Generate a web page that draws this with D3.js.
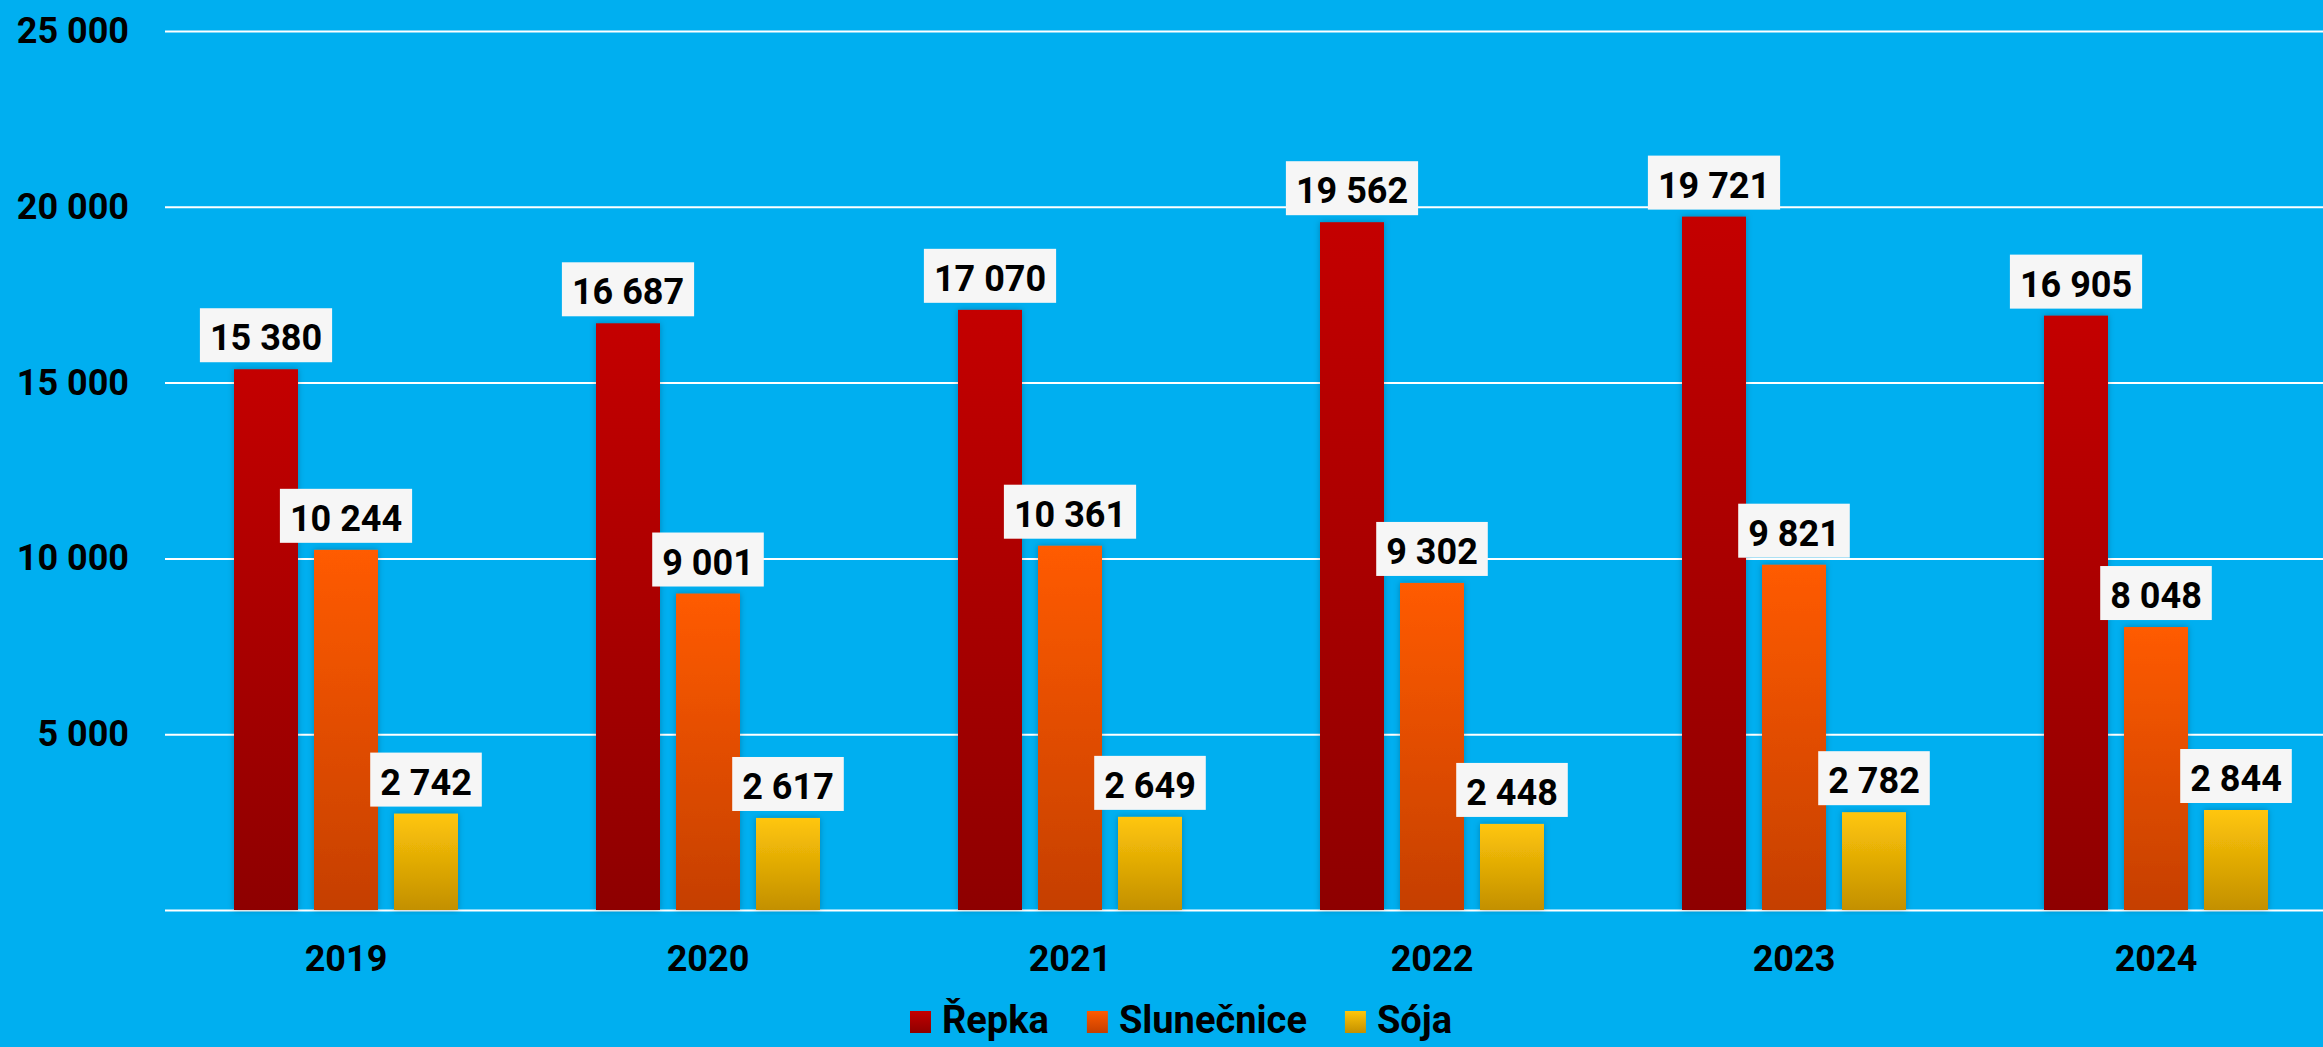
<!DOCTYPE html>
<html>
<head>
<meta charset="utf-8">
<script src="https://cdn.jsdelivr.net/npm/d3@7"></script>
<style>
    html, body { margin: 0; padding: 0; background: #00AFF0; }
    svg { display: block; }
    text { font-family: Roboto, "Noto Sans", sans-serif; font-weight: 700; fill: #000; }
</style>
</head>
<body>
<svg id="chart" width="2323" height="1047"></svg>
<script>
var years = ["2019", "2020", "2021", "2022", "2023", "2024"];
var seriesNames = ["Řepka", "Slunečnice", "Sója"];
var repka = [15380, 16687, 17070, 19562, 19721, 16905];
var slunecnice = [10244, 9001, 10361, 9302, 9821, 8048];
var soja = [2742, 2617, 2649, 2448, 2782, 2844];
var yTicks = [0, 5000, 10000, 15000, 20000, 25000];

var seriesValues = [repka, slunecnice, soja];
var gradColors = [["#C40000", "#8E0000"], ["#FF5B00", "#C53F00"], ["#FFC60A", "#C39000"]];

var width = 2323, height = 1047;
var plotLeft = 165, plotRight = 2337, plotTop = 31, plotBottom = 910;

var svg = d3.select("#chart");

var locale = d3.formatLocale({decimal: ",", thousands: " ", grouping: [3], currency: ["", ""]});
var fmt = locale.format(",d");

var defs = svg.append("defs");
gradColors.forEach(function(c, i) {
    var g = defs.append("linearGradient")
        .attr("id", "grad" + i)
        .attr("x1", 0).attr("y1", 0).attr("x2", 0).attr("y2", 1);
    g.append("stop").attr("offset", "0%").attr("stop-color", c[0]);
    g.append("stop").attr("offset", "100%").attr("stop-color", c[1]);
});
var shadow = defs.append("filter").attr("id", "shadow")
    .attr("x", "-20%").attr("y", "-5%").attr("width", "140%").attr("height", "110%");
shadow.append("feDropShadow")
    .attr("dx", 0).attr("dy", 0).attr("stdDeviation", 3)
    .attr("flood-color", "#000").attr("flood-opacity", 0.25);

svg.append("rect")
    .attr("width", width).attr("height", height)
    .attr("fill", "#00AFF0");

var x0 = d3.scaleBand().domain(years).range([plotLeft, plotRight]);
var x1 = d3.scaleBand().domain(seriesNames).range([-112, 112]).paddingInner(0.2);
var y = d3.scaleLinear().domain([0, 25000]).range([plotBottom, plotTop]);

// gridlines
var grid = svg.append("g")
    .attr("transform", "translate(" + plotLeft + ",0)")
    .call(d3.axisLeft(y).tickValues(yTicks).tickSize(-(width - plotLeft)).tickFormat(""));
grid.select(".domain").remove();
grid.selectAll("line").attr("stroke", "#FFFFFF").attr("stroke-width", 2);

// y labels (0 not labelled)
svg.append("g").selectAll("text")
    .data(yTicks.filter(function(d) { return d > 0; }))
    .enter().append("text")
    .attr("x", 129)
    .attr("y", function(d) { return y(d) + 12; })
    .attr("text-anchor", "end")
    .style("font-size", "36px")
    .text(function(d) { return fmt(d); });

// x labels
svg.append("g").selectAll("text")
    .data(years)
    .enter().append("text")
    .attr("x", function(d) { return x0(d) + x0.bandwidth() / 2; })
    .attr("y", 971)
    .attr("text-anchor", "middle")
    .style("font-size", "36px")
    .text(function(d) { return d; });

// bars + labels
var rows = [];
years.forEach(function(yr, i) {
    seriesNames.forEach(function(s, j) {
        rows.push({year: yr, series: s, idx: j, value: seriesValues[j][i]});
    });
});

var groups = svg.append("g").selectAll("g")
    .data(rows)
    .enter().append("g")
    .attr("transform", function(d) {
        return "translate(" + (x0(d.year) + x0.bandwidth() / 2 + x1(d.series)) + ",0)";
    });

groups.append("rect")
    .attr("x", 0)
    .attr("y", function(d) { return y(d.value); })
    .attr("width", x1.bandwidth())
    .attr("height", function(d) { return y(0) - y(d.value); })
    .attr("fill", function(d) { return "url(#grad" + d.idx + ")"; })
    .attr("filter", "url(#shadow)");

var labels = groups.append("g")
    .attr("transform", function(d) {
        return "translate(" + (x1.bandwidth() / 2) + "," + (y(d.value) - 7) + ")";
    });

labels.append("rect")
    .attr("fill", "#F6F6F6");

labels.append("text")
    .attr("x", 0)
    .attr("y", -12)
    .attr("text-anchor", "middle")
    .style("font-size", "36px")
    .text(function(d) { return fmt(d.value); });

labels.each(function() {
    var g = d3.select(this);
    var w = g.select("text").node().getComputedTextLength() + 20;
    g.select("rect")
        .attr("x", -w / 2)
        .attr("y", -54)
        .attr("width", w)
        .attr("height", 54);
});

// legend (lifted a little so descenders stay inside the picture)
var legend = svg.append("g");
var items = legend.selectAll("g")
    .data(seriesNames)
    .enter().append("g");
items.append("rect")
    .attr("y", 1011)
    .attr("width", 21)
    .attr("height", 22)
    .attr("fill", function(d, i) { return "url(#grad" + i + ")"; });
items.append("text")
    .attr("x", 32)
    .attr("y", 1033)
    .style("font-size", "38px")
    .text(function(d) { return d; });

var legendX = 910;
items.each(function() {
    var g = d3.select(this);
    g.attr("transform", "translate(" + legendX + ",0)");
    legendX += 32 + g.select("text").node().getComputedTextLength() + 38;
});
</script>
</body>
</html>
